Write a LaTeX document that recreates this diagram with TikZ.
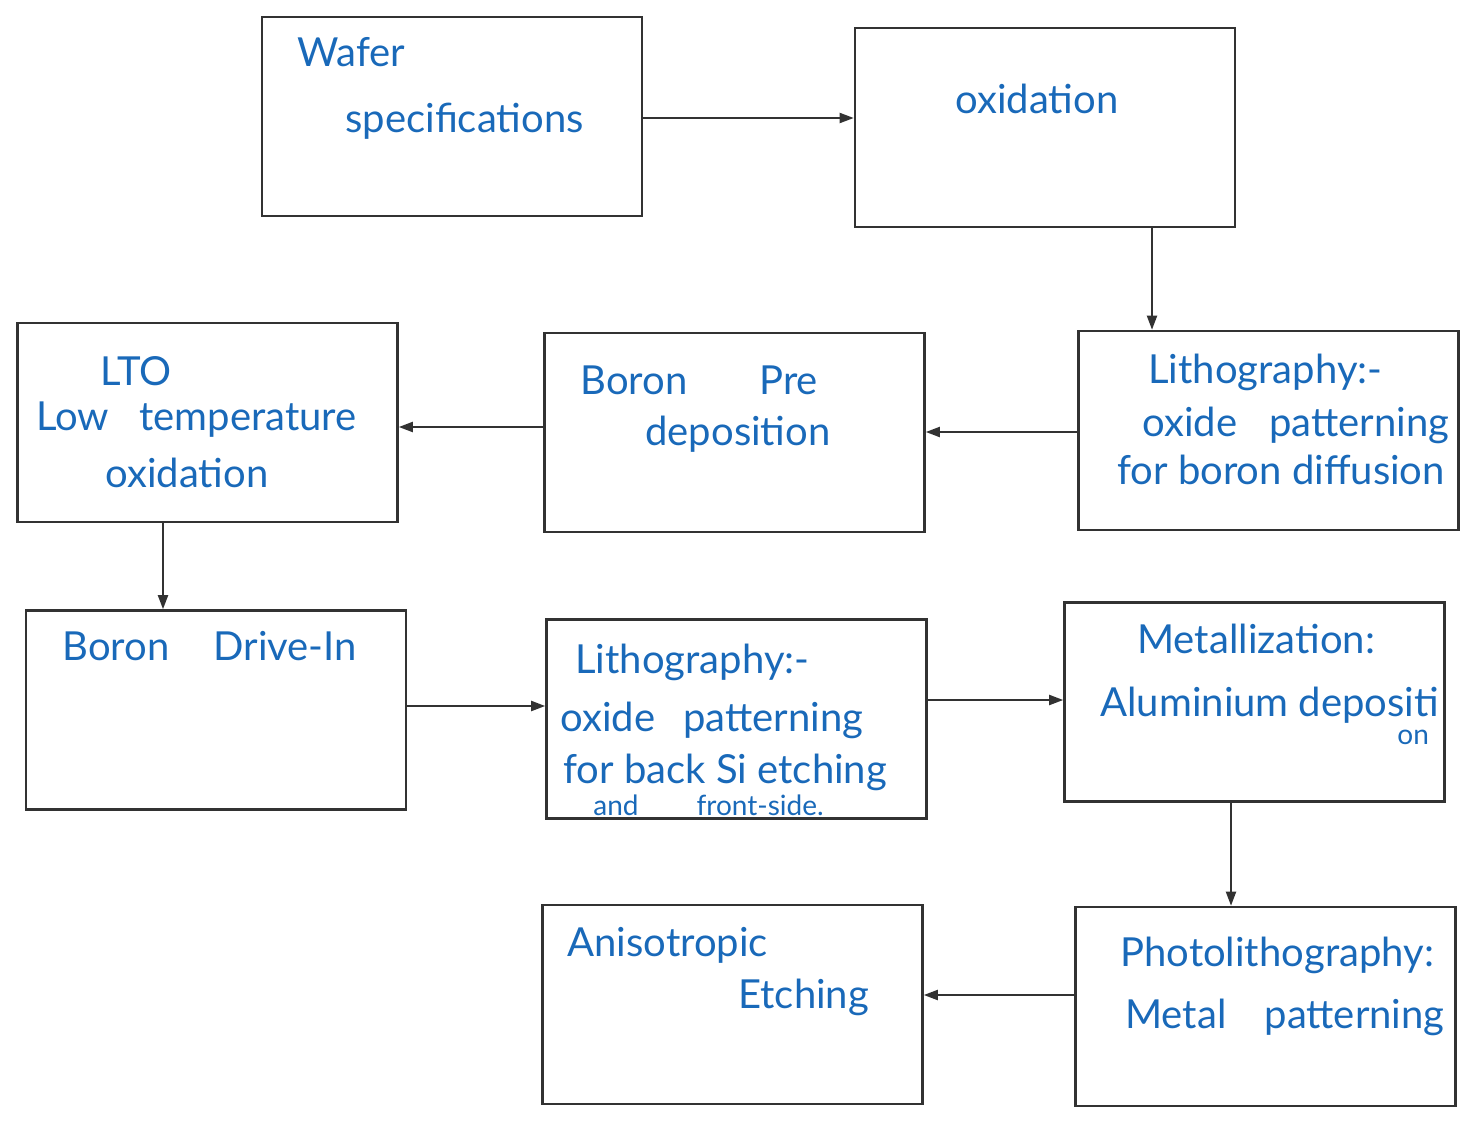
\documentclass[tikz,border=0pt]{standalone}
\usepackage{fontspec}
\setmainfont{Lato}
\usetikzlibrary{arrows.meta}
\definecolor{ink}{RGB}{25,105,185}
\definecolor{frame}{RGB}{50,50,50}
\tikzset{
  box/.style={draw=frame, line width=1.3pt, minimum width=190pt, minimum height=99.5pt, inner sep=0pt},
  txt/.style={anchor=base west, inner sep=0pt, text=ink, font=\fontsize{20}{24}\selectfont},
  small/.style={txt, font=\fontsize{14}{17}\selectfont},
  flow/.style={draw=frame, line width=1pt, -{Triangle[length=7pt,width=5pt]}}
}
\begin{document}
\begin{tikzpicture}[x=0.5pt,y=-0.5pt]
\useasboundingbox (0,0) rectangle (1478,1124);
% boxes
\node[box] (wafer)  at (452,116.5) {};
\node[box] (oxid)   at (1045,127.5) {};
\node[box] (litho1) at (1268.5,430.5) {};
\node[box] (pre)    at (734.5,432.5) {};
\node[box] (lto)    at (207.5,422.5) {};
\node[box] (drive)  at (216,710) {};
\node[box] (litho2) at (736.5,719) {};
\node[box] (metal)  at (1254.5,702) {};
\node[box] (photo)  at (1265.5,1006.5) {};
\node[box] (aniso)  at (732.5,1004.5) {};
% texts
\node[txt] (t1a) at (297,66) {Wafer};
\node[txt] (t1b) at (345,132) {specifications};
\node[txt] (t2)  at (955,113) {oxidation};
\node[txt] (t3a) at (1148,383) {Lithography:-};
\node[txt] (t3b) at (1142,436) {oxide\hspace{16pt}patterning};
\node[txt] (t3c) at (1117,484) {for\hspace{5pt}boron diffusion};
\node[txt] (t4a) at (580,394) {Boron\hspace{36pt}Pre};
\node[txt] (t4b) at (645,445) {deposition};
\node[txt] (t5a) at (100,385) {LTO};
\node[txt] (t5b) at (36,430) {Low\hspace{15pt}temperature};
\node[txt] (t5c) at (105,487) {oxidation};
\node[txt] (t6)  at (62,660) {Boron\hspace{22pt}Drive-In};
\node[txt] (t7a) at (575,673) {Lithography:-};
\node[txt] (t7b) at (560,731) {oxide\hspace{14pt}patterning};
\node[txt] (t7c) at (563,783) {for back Si etching};
\node[small] (t7d) at (593,815) {and\hspace{29pt}front-side.};
\node[txt] (t8a) at (1137,653) {Metallization:};
\node[txt] (t8b) at (1100,716) {Aluminium\hspace{5pt}depositi};
\node[small] (t8c) at (1397,744) {on};
\node[txt] (t9a) at (1120,966) {Photolithography:};
\node[txt] (t9b) at (1125,1028) {Metal\hspace{19pt}patterning};
\node[txt] (t10a) at (567,956) {Anisotropic};
\node[txt] (t10b) at (738,1008) {Etching};
% connectors
\draw[flow] ([yshift=-0.75pt]wafer.east) -- ([yshift=-0.75pt]wafer.east -| oxid.west);
\draw[flow] ([xshift=53.5pt]oxid.south) -- ([xshift=53.5pt]oxid.south |- litho1.north);
\draw[flow] ([yshift=-0.75pt]litho1.west) -- ([yshift=-0.75pt]litho1.west -| pre.east);
\draw[flow] ([yshift=2.75pt]pre.west) -- ([yshift=2.75pt]pre.west -| lto.east);
\draw[flow] ([xshift=-22.25pt]lto.south) -- ([xshift=-22.25pt]lto.south |- drive.north);
\draw[flow] ([yshift=2pt]drive.east) -- ([yshift=2pt]drive.east -| litho2.west);
\draw[flow] ([yshift=9.5pt]litho2.east) -- ([yshift=9.5pt]litho2.east -| metal.west);
\draw[flow] ([xshift=-11.75pt]metal.south) -- ([xshift=-11.75pt]metal.south |- photo.north);
\draw[flow] ([yshift=5.75pt]photo.west) -- ([yshift=5.75pt]photo.west -| aniso.east);
\end{tikzpicture}
\end{document}
